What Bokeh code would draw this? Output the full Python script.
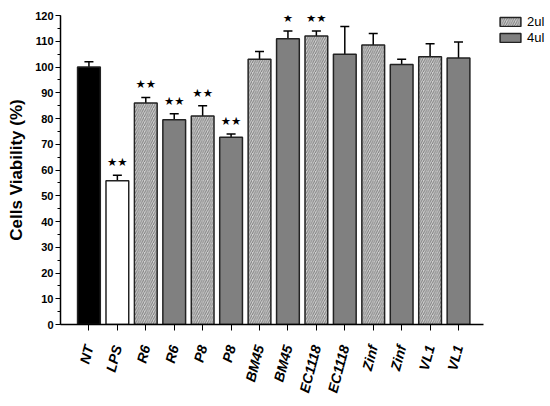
import numpy as np
from bokeh.plotting import figure
from bokeh.models import (ColumnDataSource, Range1d, FixedTicker, SingleIntervalTicker,
                          Whisker, TeeHead, Legend, LegendItem)
from bokeh.core.properties import value
from bokeh.embed import file_html
from bokeh.resources import INLINE

# ---- data ----
labels = ["NT", "LPS", "R6", "R6", "P8", "P8", "BM45", "BM45",
          "EC1118", "EC1118", "Zinf", "Zinf", "VL1", "VL1"]
groups = ["NT", "LPS", "2ul", "4ul", "2ul", "4ul", "2ul", "4ul",
          "2ul", "4ul", "2ul", "4ul", "2ul", "4ul"]
values = [100.0, 55.8, 86.0, 79.5, 81.0, 72.7, 103.0, 111.0,
          112.0, 105.0, 108.5, 101.0, 104.0, 103.5]
errors = [2.0, 2.2, 2.2, 2.3, 4.0, 1.3, 3.0, 3.0,
          2.0, 10.7, 4.5, 2.0, 5.0, 6.2]
stars = ["", "★★", "★★", "★★", "★★", "★★", "", "★",
         "★★", "", "", "", "", ""]
legend_labels = ["2ul", "4ul"]

xs = list(range(1, len(labels) + 1))
vals = np.array(values)
errs = np.array(errors)

def src(group):
    idx = [i for i, g in enumerate(groups) if g == group]
    return ColumnDataSource(dict(
        x=[xs[i] for i in idx], top=[values[i] for i in idx]))

all_src = ColumnDataSource(dict(x=xs, top=values, upper=list(vals + errs),
                                lower=list(vals - errs), stars=stars))

# frame: left 60, right 548 (extra room on right for legend), top 15, bottom 324
x_end_axis = 14.88
p = figure(width=550, height=406, output_backend="svg", toolbar_location=None,
           x_range=Range1d(0, 17.165), y_range=Range1d(0, 120),
           min_border_left=60, min_border_right=2, min_border_top=15,
           min_border_bottom=82)
p.outline_line_color = None
p.xgrid.visible = False
p.ygrid.visible = False
p.background_fill_color = "white"

outline = dict(line_color="#222222", line_width=1.5)
bw = 0.8
p.vbar(x="x", top="top", width=bw, source=src("NT"), fill_color="black", **outline)
p.vbar(x="x", top="top", width=bw, source=src("LPS"), fill_color="white", **outline)
r2 = p.vbar(x="x", top="top", width=bw, source=src("2ul"), fill_color="#d2d2d2",
            hatch_pattern="/", hatch_color="#7d7d7d", hatch_scale=4.5, hatch_weight=1.0,
            **outline)
r4 = p.vbar(x="x", top="top", width=bw, source=src("4ul"), fill_color="#808080", **outline)

wh = Whisker(source=all_src, base="x", upper="upper", lower="lower",
             line_color="black", line_width=1.5,
             upper_head=TeeHead(size=9, line_color="black", line_width=1.5),
             lower_head=TeeHead(size=9, line_color="black", line_width=1.5))
p.add_layout(wh)

p.text(x="x", y="upper", text="stars", source=all_src, text_align="center",
       text_baseline="bottom", y_offset=-6, text_font=value("DejaVu Sans"),
       text_font_size="11.5px", text_color="black")

# axes
yax = p.yaxis[0]
yax.ticker = SingleIntervalTicker(interval=10, num_minor_ticks=2)
yax.axis_label = "Cells Viability (%)"
yax.axis_label_text_font = "Liberation Sans"
yax.axis_label_text_font_style = "bold"
yax.axis_label_text_font_size = "17px"
yax.axis_label_text_color = "black"
yax.axis_label_standoff = 6
yax.major_label_text_font = "Liberation Sans"
yax.major_label_text_font_style = "bold"
yax.major_label_text_font_size = "11px"
yax.major_label_text_color = "black"
yax.major_label_standoff = 2
yax.major_tick_out = 5
yax.major_tick_in = 0
yax.minor_tick_out = 3
yax.minor_tick_in = 0
yax.axis_line_width = 1.5
yax.axis_line_color = "black"
yax.major_tick_line_color = "black"
yax.minor_tick_line_color = "black"

xax = p.xaxis[0]
xax.bounds = (0, x_end_axis)
xax.ticker = FixedTicker(ticks=xs)
xax.major_label_overrides = {x: l for x, l in zip(xs, labels)}
xax.major_label_orientation = np.deg2rad(75)
xax.major_label_text_font = "Liberation Sans"
xax.major_label_text_font_style = "bold italic"
xax.major_label_text_font_size = "14px"
xax.major_label_text_color = "black"
xax.major_tick_out = 6
xax.major_tick_in = 0
xax.minor_tick_line_color = None
xax.axis_line_width = 1.5
xax.axis_line_color = "black"
xax.major_tick_line_color = "black"
xax.major_label_standoff = 15

legend = Legend(items=[LegendItem(label=legend_labels[0], renderers=[r2]),
                       LegendItem(label=legend_labels[1], renderers=[r4])],
                location=(437, 279), orientation="vertical",
                glyph_width=26, glyph_height=11, spacing=1, padding=0, margin=0,
                label_text_font="Liberation Sans", label_text_font_size="13px",
                label_text_color="black",
                label_standoff=4, border_line_color=None, background_fill_alpha=0)
p.add_layout(legend)

open("out.html", "w").write(file_html(p, INLINE))
